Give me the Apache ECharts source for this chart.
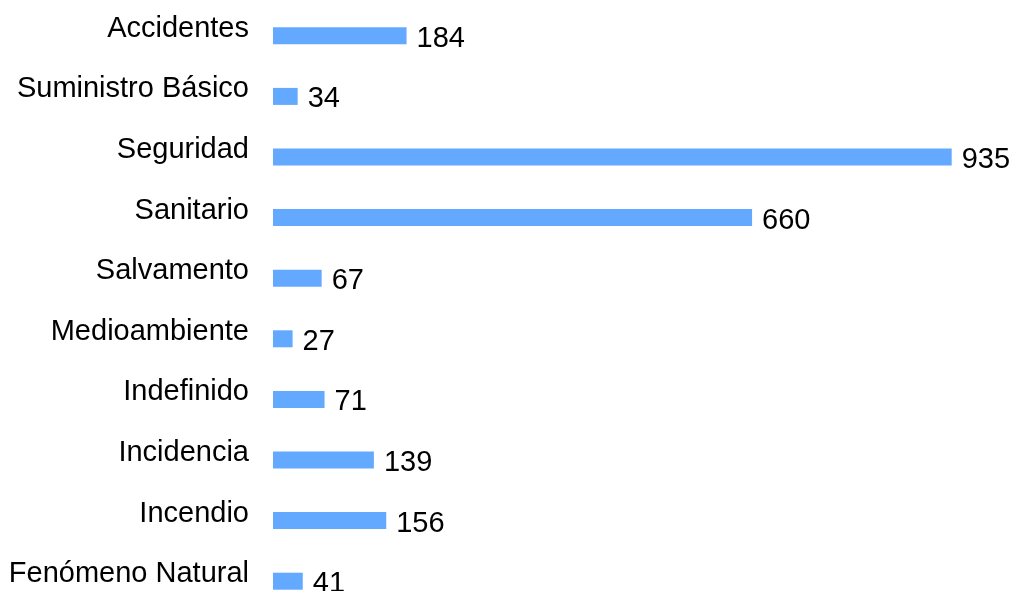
<!DOCTYPE html>
<html><head><meta charset="utf-8">
<script src="https://cdn.jsdelivr.net/npm/echarts@6/dist/echarts.min.js"></script>
<style>html,body{margin:0;padding:0;background:#fff}#c{width:1013px;height:591px}</style>
</head><body><div id="c"></div>
<script>
const categories = ['Accidentes','Suministro Básico','Seguridad','Sanitario','Salvamento','Medioambiente','Indefinido','Incidencia','Incendio','Fenómeno Natural'];
const values = [184, 34, 935, 660, 67, 27, 71, 139, 156, 41];
const chart = echarts.init(document.getElementById('c'));
chart.setOption({
  animation: false,
  grid: { left: 273, right: 61.3, top: 5.5, height: 606, containLabel: false, outerBoundsMode: 'none' },
  xAxis: { type: 'value', min: 0, max: 'dataMax', show: false },
  yAxis: {
    type: 'category', data: categories, inverse: true,
    axisLine: { show: false }, axisTick: { show: false },
    axisLabel: { color: '#000', fontFamily: 'Liberation Sans, Arial, sans-serif', fontSize: 29, margin: 24, verticalAlign: 'bottom', lineHeight: 14 }
  },
  series: [{
    type: 'bar', data: values, barWidth: 17,
    itemStyle: { color: '#63a9ff' },
    label: { show: true, position: 'right', distance: 10, color: '#000', fontFamily: 'Liberation Sans, Arial, sans-serif', fontSize: 29, offset: [0, 3] }
  }]
});
</script></body></html>
